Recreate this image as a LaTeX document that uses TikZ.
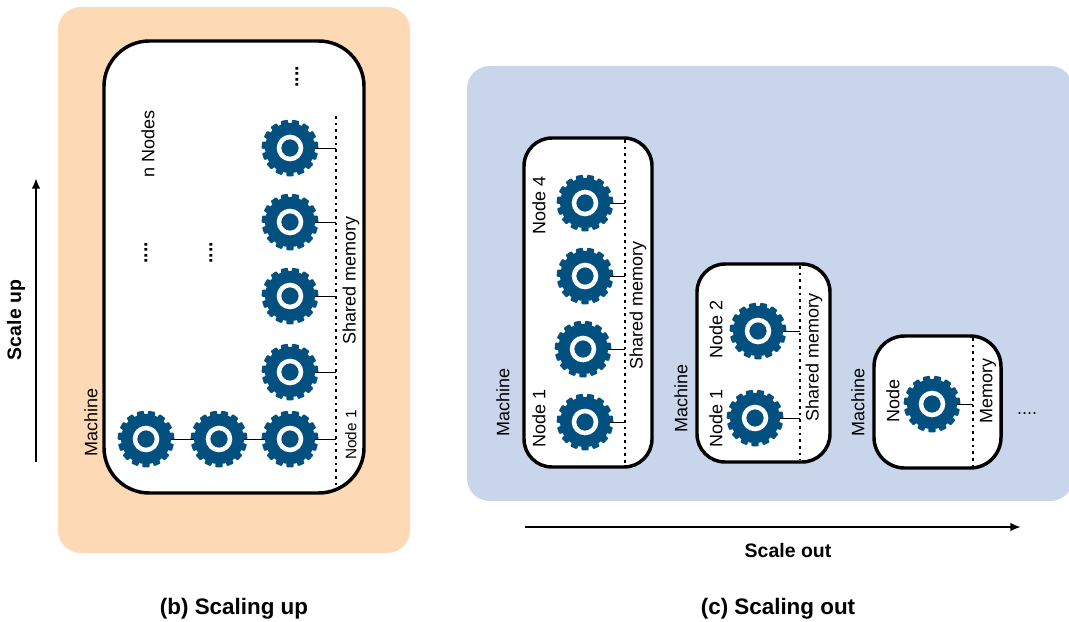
\documentclass[tikz,border=0pt]{standalone}
\usepackage{fontspec}
\setmainfont{Liberation Sans}
\usepackage{tikz}
\usetikzlibrary{arrows.meta}
\definecolor{upbg}{HTML}{FDD9B5}
\definecolor{outbg}{HTML}{C8D5EB}
\definecolor{gearblue}{HTML}{02507F}
\tikzset{
	machinebox/.style={draw=black, fill=white, line width=2.6pt},
	memline/.style={line width=2.2pt, dash pattern=on 2.1pt off 2.9pt},
	gearbody/.style={circle, fill=gearblue, minimum size=37.5pt, inner sep=0pt},
	vlabel/.style={rotate=90, font=\fontsize{13.5pt}{15pt}\selectfont, inner sep=0pt},
	hlabel/.style={font=\fontsize{13.5pt}{15pt}\selectfont, inner sep=0pt},
	dotlabel/.style={font=\fontsize{14.5pt}{15pt}\selectfont\bfseries, inner sep=0pt},
	biglabel/.style={font=\fontsize{14.6pt}{15pt}\selectfont\bfseries, inner sep=0pt},
	caption/.style={font=\fontsize{16.8pt}{18pt}\selectfont\bfseries, inner sep=0pt},
	scalearrow/.style={-{Latex[length=8pt,width=6.5pt]}, line width=1.6pt}
}
\newcommand{\gear}[3]{
	\node [gearbody] (#1) at (#2, #3) {};
	\foreach \a in {90,114,...,426}
		\fill [gearblue, rounded corners=0.6pt, shift={(#1.center)}] (\a-9:24) -- (\a-7:28.5) -- (\a+7:28.5) -- (\a+9:24) -- cycle;
	\draw [white, line width=3.4pt] (#1.center) circle (11);
}
\begin{document}
\begin{tikzpicture}[x=0.75pt, y=-0.75pt]
	\useasboundingbox (0, 0) rectangle (1069, 621);
	% panels
	\fill [upbg, rounded corners=17pt] (58, 7) rectangle (410, 553);
	\fill [outbg, rounded corners=17pt] (467, 66) rectangle (1073, 501);

	% scaling up
	\draw [machinebox, rounded corners=34pt] (104, 41) rectangle (364, 493);
	\coordinate (memupt) at (336, 116);
	\coordinate (memupb) at (336, 491);
	\draw [memline] (memupt)--(memupb);
	\gear{gupa}{146}{439}
	\gear{gupb}{219}{439}
	\gear{gupc}{290}{439}
	\gear{gupd}{290}{372}
	\gear{gupe}{290}{296}
	\gear{gupf}{290}{222}
	\gear{gupg}{290}{148}
	\draw (gupa.east)--(gupb.west);
	\draw (gupb.east)--(gupc.west);
	\foreach \g in {gupc,gupd,gupe,gupf,gupg}
		\draw (\g.east)--(\g.east -| memupt);
	\node [vlabel] (mup) at (91, 422) {Machine};
	\node [vlabel, font=\fontsize{11.5pt}{15pt}\selectfont] (nup) at (351, 435) {Node 1};
	\node [vlabel] (smup) at (351, 280) {Shared memory};
	\node [vlabel] (nnodes) at (148, 144) {n Nodes};
	\node [dotlabel, rotate=90] (dotsa) at (146, 253) {....};
	\node [dotlabel, rotate=90] (dotsb) at (211, 253) {....};
	\node [dotlabel, rotate=90] (dotsc) at (297, 77) {....};
	\node [biglabel, rotate=90] (scup) at (16, 320) {Scale up};
	\coordinate (arrupa) at (36, 462);
	\coordinate (arrupb) at (36, 178);
	\draw [scalearrow] (arrupa)--(arrupb);

	% scaling out, four nodes
	\draw [machinebox, rounded corners=21pt] (524, 138) rectangle (652, 467);
	\coordinate (memat) at (625, 140);
	\coordinate (memab) at (625, 465);
	\draw [memline] (memat)--(memab);
	\gear{gaa}{585}{422}
	\gear{gab}{583}{349}
	\gear{gac}{585}{276}
	\gear{gad}{585}{203}
	\foreach \g in {gaa,gab,gac,gad}
		\draw (\g.east)--(\g.east -| memat);
	\node [vlabel] (ma) at (503, 402) {Machine};
	\node [vlabel] (naa) at (539, 418) {Node 1};
	\node [vlabel] (nad) at (539, 205) {Node 4};
	\node [vlabel] (sma) at (638, 305) {Shared memory};

	% scaling out, two nodes
	\draw [machinebox, rounded corners=21pt] (697, 264) rectangle (830, 462);
	\coordinate (membt) at (800, 266);
	\coordinate (membb) at (800, 460);
	\draw [memline] (membt)--(membb);
	\gear{gba}{755}{418}
	\gear{gbb}{758}{331}
	\foreach \g in {gba,gbb}
		\draw (\g.east)--(\g.east -| membt);
	\node [vlabel] (mb) at (681, 398) {Machine};
	\node [vlabel] (nba) at (716, 418) {Node 1};
	\node [vlabel] (nbb) at (716, 329) {Node 2};
	\node [vlabel] (smb) at (814, 357) {Shared memory};

	% scaling out, one node
	\draw [machinebox, rounded corners=23pt] (874, 336) rectangle (1001, 468);
	\coordinate (memct) at (973, 338);
	\coordinate (memcb) at (973, 466);
	\draw [memline] (memct)--(memcb);
	\gear{gca}{932}{404}
	\draw (gca.east)--(gca.east -| memct);
	\node [vlabel] (mc) at (858, 402) {Machine};
	\node [vlabel] (nca) at (893, 401) {Node};
	\node [vlabel] (memc) at (988, 391) {Memory};
	\node [hlabel] (dotsd) at (1027, 414) {....};

	\coordinate (arrouta) at (525, 527);
	\coordinate (arroutb) at (1021, 527);
	\draw [scalearrow] (arrouta)--(arroutb);
	\node [biglabel] (scout) at (788, 551) {Scale out};

	% captions
	\node [caption] (capb) at (234, 609) {(b) Scaling up};
	\node [caption] (capc) at (778, 609) {(c) Scaling out};
\end{tikzpicture}
\end{document}
